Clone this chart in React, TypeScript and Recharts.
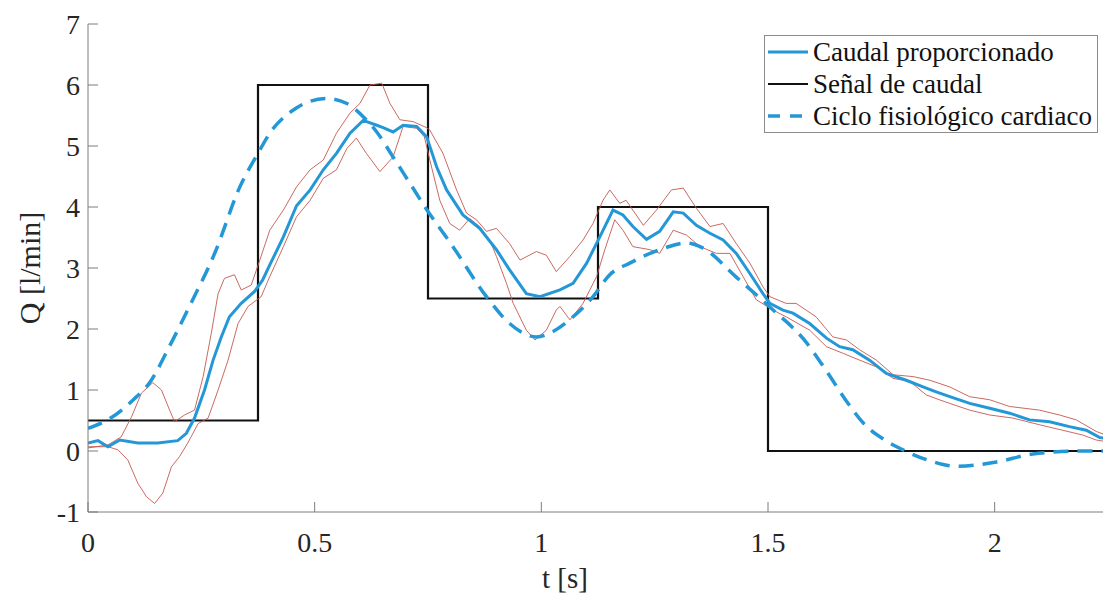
import React from "react";
import { Line, LineChart, XAxis, YAxis } from "recharts";

// step signal (Señal de caudal)
const T_STEP = [0, 0.375, 0.75, 1.125, 1.5, 2.25];
const Q_STEP = [0.5, 6, 2.5, 4, 0, 0];

// measured mean flow (Caudal proporcionado)
const T_MAIN = [
  0, 0.022, 0.044, 0.07, 0.11, 0.154, 0.198, 0.217, 0.235, 0.257, 0.276, 0.294, 0.312, 0.338, 0.368,
  0.385, 0.401, 0.431, 0.46, 0.49, 0.519, 0.548, 0.578, 0.607, 0.637, 0.651, 0.673, 0.695, 0.725,
  0.747, 0.769, 0.791, 0.827, 0.864, 0.901, 0.93, 0.967, 0.997, 1.041, 1.07, 1.1, 1.129, 1.158, 1.18,
  1.202, 1.232, 1.261, 1.291, 1.313, 1.342, 1.372, 1.401, 1.43, 1.46, 1.489, 1.504, 1.533, 1.555,
  1.592, 1.629, 1.658, 1.687, 1.724, 1.761, 1.805, 1.842, 1.871, 1.901, 1.945, 1.989, 2.033, 2.077,
  2.121, 2.165, 2.202, 2.232, 2.25,
];
const Q_MAIN = [
  0.13, 0.17, 0.07, 0.18, 0.13, 0.13, 0.17, 0.29, 0.54, 1.0, 1.49, 1.87, 2.2, 2.42, 2.62,
  2.8, 3.05, 3.51, 4.02, 4.28, 4.61, 4.88, 5.21, 5.42, 5.34, 5.3, 5.23, 5.34, 5.32,
  5.15, 4.66, 4.28, 3.87, 3.65, 3.3, 2.97, 2.58, 2.53, 2.64, 2.75, 3.08, 3.51, 3.95, 3.87,
  3.68, 3.47, 3.6, 3.92, 3.9, 3.7, 3.57, 3.46, 3.24, 2.91, 2.58, 2.42, 2.31, 2.26,
  2.09, 1.85, 1.71, 1.66, 1.49, 1.27, 1.16, 1.05, 0.97, 0.89, 0.78, 0.7, 0.62, 0.51,
  0.48, 0.4, 0.34, 0.22, 0.2,
];

// upper / lower dispersion curves (red)
const T_RED_A = [
  0, 0.044, 0.073, 0.096, 0.118, 0.143, 0.162, 0.18, 0.191, 0.213, 0.235, 0.254, 0.272, 0.287, 0.301,
  0.323, 0.338, 0.36, 0.379, 0.401, 0.431, 0.46, 0.49, 0.519, 0.548, 0.578, 0.6, 0.622, 0.648, 0.666,
  0.688, 0.717, 0.747, 0.754, 0.783, 0.813, 0.835, 0.857, 0.879, 0.901, 0.93, 0.953, 0.989, 1.011,
  1.033, 1.063, 1.092, 1.114, 1.136, 1.151, 1.173, 1.187, 1.225, 1.254, 1.287, 1.313, 1.342, 1.372,
  1.401, 1.43, 1.46, 1.489, 1.504, 1.54, 1.562, 1.606, 1.643, 1.673, 1.702, 1.739, 1.776, 1.82,
  1.857, 1.901, 1.945, 1.989, 2.033, 2.099, 2.143, 2.18, 2.224, 2.25,
];
const Q_RED_A = [
  0.05, 0.1, 0.23, 0.56, 0.95, 1.12, 1.0, 0.67, 0.48, 0.59, 0.67, 1.22, 1.93, 2.58, 2.83,
  2.89, 2.64, 2.72, 3.13, 3.62, 3.95, 4.33, 4.61, 4.77, 5.21, 5.54, 5.7, 6.0, 6.03, 5.7,
  5.43, 5.4, 5.3, 5.26, 4.88, 4.28, 3.9, 3.79, 3.6, 3.65, 3.4, 3.13, 3.27, 3.21,
  2.94, 3.19, 3.46, 3.73, 4.11, 4.28, 4.06, 4.11, 3.7, 3.95, 4.28, 4.31, 3.98, 3.68,
  3.73, 3.4, 3.08, 2.69, 2.53, 2.42, 2.42, 2.2, 1.87, 1.82, 1.66, 1.49, 1.25, 1.22,
  1.16, 1.05, 0.89, 0.84, 0.73, 0.67, 0.59, 0.51, 0.32, 0.25,
];
const T_RED_B = [
  0, 0.044, 0.066, 0.088, 0.11, 0.129, 0.147, 0.165, 0.184, 0.202, 0.22, 0.243, 0.265, 0.287, 0.309,
  0.331, 0.353, 0.382, 0.401, 0.431, 0.46, 0.49, 0.519, 0.548, 0.571, 0.592, 0.614, 0.644, 0.673,
  0.695, 0.725, 0.742, 0.754, 0.776, 0.798, 0.82, 0.842, 0.864, 0.886, 0.901, 0.923, 0.938, 0.967,
  0.986, 1.011, 1.033, 1.041, 1.063, 1.092, 1.122, 1.14, 1.162, 1.18, 1.202, 1.24, 1.261, 1.291,
  1.32, 1.35, 1.386, 1.416, 1.445, 1.474, 1.511, 1.54, 1.592, 1.629, 1.666, 1.702, 1.739, 1.776,
  1.813, 1.849, 1.878, 1.901, 1.945, 1.989, 2.04, 2.099, 2.15, 2.195, 2.224, 2.25,
];
const Q_RED_B = [
  0.07, 0.07, 0.02, -0.15, -0.53, -0.75, -0.86, -0.69, -0.26, -0.09, 0.13, 0.45, 0.54, 1.0, 1.49,
  2.09, 2.37, 2.53, 2.86, 3.35, 3.84, 4.11, 4.47, 4.61, 4.96, 5.13, 4.88, 4.58, 4.82,
  5.32, 5.29, 5.15, 4.77, 4.11, 3.73, 3.62, 3.81, 3.68, 3.46, 3.19, 2.75, 2.42, 1.98,
  1.82, 1.98, 2.31, 2.37, 2.15, 2.42, 2.86, 3.3, 3.79, 3.62, 3.35, 3.3, 3.24, 3.62,
  3.54, 3.35, 3.24, 3.24, 2.86, 2.48, 2.31, 2.2, 1.98, 1.71, 1.6, 1.49, 1.38, 1.19,
  1.14, 0.92, 0.84, 0.78, 0.67, 0.59, 0.54, 0.43, 0.34, 0.26, 0.18, 0.15,
];

// physiological cardiac cycle (dashed)
const T_CYCLE = [
  0, 0.05, 0.1, 0.137, 0.18, 0.225, 0.28, 0.335, 0.375, 0.401, 0.453, 0.526, 0.57, 0.611, 0.637,
  0.673, 0.71, 0.747, 0.805, 0.879, 0.93, 0.989, 1.026, 1.07, 1.114, 1.151, 1.195, 1.277, 1.32,
  1.356, 1.43, 1.504, 1.58, 1.63, 1.67, 1.715, 1.76, 1.8, 1.857, 1.916, 2.004, 2.084, 2.194, 2.25,
];
const Q_CYCLE = [
  0.37, 0.54, 0.84, 1.13, 1.72, 2.39, 3.25, 4.33, 4.88, 5.21, 5.59, 5.78, 5.7, 5.45, 5.23,
  4.82, 4.39, 3.96, 3.35, 2.53, 2.09, 1.87, 1.96, 2.2, 2.53, 2.89, 3.08, 3.34, 3.41,
  3.33, 2.85, 2.36, 1.82, 1.3, 0.85, 0.42, 0.17, 0.01, -0.16, -0.25, -0.18, -0.05, 0, 0,
];

const X_TICKS = [0, 0.5, 1, 1.5, 2];
const Y_TICKS = [-1, 0, 1, 2, 3, 4, 5, 6, 7];

const zip = (ts: number[], vs: number[]) => ts.map((t, i) => ({ t, v: vs[i] }));

const stepData = zip(T_STEP, Q_STEP);
const mainData = zip(T_MAIN, Q_MAIN);
const redAData = zip(T_RED_A, Q_RED_A);
const redBData = zip(T_RED_B, Q_RED_B);
const cycleData = zip(T_CYCLE, Q_CYCLE);

const FONT = '"Liberation Serif", "Times New Roman", serif';
const AXIS_GREY = "#7d7d7d";
const TEXT = "#262626";
const BLUE = "#2497d6";
const RED = "#c4584f";
const TICK_LEN = 10;

function LeftTick({ x, y, payload }: any) {
  return (
    <g>
      <text x={x} y={y} dy={10} textAnchor="end" fontSize={28} fontFamily={FONT} fill={TEXT}>
        {payload.value}
      </text>
      <line x1={x + 8} x2={x + 8 + TICK_LEN} y1={y} y2={y} stroke={AXIS_GREY} />
    </g>
  );
}

function BottomTick({ x, y, payload }: any) {
  return (
    <g>
      <text x={x} y={y + 40} textAnchor="middle" fontSize={28} fontFamily={FONT} fill={TEXT}>
        {payload.value}
      </text>
      <line x1={x} x2={x} y1={y} y2={y - TICK_LEN} stroke={AXIS_GREY} />
    </g>
  );
}

function TopTick({ x, y }: any) {
  return <line x1={x} x2={x} y1={y} y2={y + TICK_LEN} stroke={AXIS_GREY} />;
}

function RightTick({ x, y }: any) {
  return <line x1={x} x2={x - TICK_LEN} y1={y} y2={y} stroke={AXIS_GREY} />;
}

const legendItems = [
  { label: "Caudal proporcionado", color: BLUE, dash: undefined as string | undefined, width: 3 },
  { label: "Señal de caudal", color: "#111", dash: undefined, width: 2 },
  { label: "Ciclo fisiológico cardiaco", color: BLUE, dash: "12 10", width: 3.5 },
];

function LegendBox() {
  return (
    <svg
      width={334}
      height={98}
      style={{ position: "absolute", left: 764, top: 35, zIndex: 2 }}
    >
      <rect x={0.5} y={0.5} width={333} height={97} fill="#fff" stroke="#8c8c8c" />
      {legendItems.map((item, i) => {
        const cy = 17 + i * 32;
        return (
          <g key={item.label}>
            <line
              x1={4}
              x2={44}
              y1={cy}
              y2={cy}
              stroke={item.color}
              strokeWidth={item.width}
              strokeDasharray={item.dash}
            />
            <text x={49} y={cy + 9} fontSize={27} fontFamily={FONT} fill="#111">
              {item.label}
            </text>
          </g>
        );
      })}
    </svg>
  );
}

export default function App() {
  return (
    <div
      style={{
        position: "absolute",
        left: 0,
        top: 0,
        width: 1103,
        height: 594,
        overflow: "hidden",
        background: "#fff",
      }}
    >
      <LineChart
        width={1108}
        height={594}
        margin={{ top: 24, right: 0, bottom: 0, left: 0 }}
      >
        <XAxis
          dataKey="t"
          type="number"
          domain={[0, 2.25]}
          ticks={X_TICKS}
          interval={0}
          height={82}
          tickSize={0}
          tickMargin={0}
          tick={<BottomTick />}
          tickLine={false}
          axisLine={{ stroke: AXIS_GREY }}
          allowDataOverflow
        />
        <XAxis
          xAxisId="top"
          orientation="top"
          dataKey="t"
          type="number"
          domain={[0, 2.25]}
          ticks={X_TICKS}
          interval={0}
          height={0}
          tickSize={0}
          tickMargin={0}
          tick={<TopTick />}
          tickLine={false}
          axisLine={{ stroke: AXIS_GREY }}
        />
        <YAxis
          type="number"
          domain={[-1, 7]}
          ticks={Y_TICKS}
          interval={0}
          width={88}
          tickSize={0}
          tickMargin={8}
          tick={<LeftTick />}
          tickLine={false}
          axisLine={{ stroke: AXIS_GREY }}
          allowDataOverflow
        />
        <YAxis
          yAxisId="right"
          orientation="right"
          type="number"
          domain={[-1, 7]}
          ticks={Y_TICKS}
          interval={0}
          width={0}
          tickSize={0}
          tickMargin={0}
          tick={<RightTick />}
          tickLine={false}
          axisLine={{ stroke: AXIS_GREY }}
        />

        <Line
          data={stepData}
          dataKey="v"
          type="stepAfter"
          stroke="#111"
          strokeWidth={2.2}
          dot={false}
          isAnimationActive={false}
        />
        <Line
          data={redAData}
          dataKey="v"
          type="linear"
          stroke={RED}
          strokeWidth={0.9}
          dot={false}
          isAnimationActive={false}
        />
        <Line
          data={redBData}
          dataKey="v"
          type="linear"
          stroke={RED}
          strokeWidth={0.9}
          dot={false}
          isAnimationActive={false}
        />
        <Line
          data={mainData}
          dataKey="v"
          type="linear"
          stroke={BLUE}
          strokeWidth={3}
          dot={false}
          isAnimationActive={false}
        />
        <Line
          data={cycleData}
          dataKey="v"
          type="monotone"
          stroke={BLUE}
          strokeWidth={3.5}
          strokeDasharray="15 9"
          dot={false}
          isAnimationActive={false}
        />
      </LineChart>

      <svg
        width={1103}
        height={594}
        style={{ position: "absolute", left: 0, top: 0, pointerEvents: "none", zIndex: 1 }}
      >
        <text x={565} y={588} textAnchor="middle" fontSize={29} fontFamily={FONT} fill={TEXT}>
          t [s]
        </text>
        <text
          x={0}
          y={0}
          transform="translate(40 268) rotate(-90)"
          textAnchor="middle"
          fontSize={30}
          fontFamily={FONT}
          fill={TEXT}
        >
          Q [l/min]
        </text>
      </svg>
      <LegendBox />
    </div>
  );
}
